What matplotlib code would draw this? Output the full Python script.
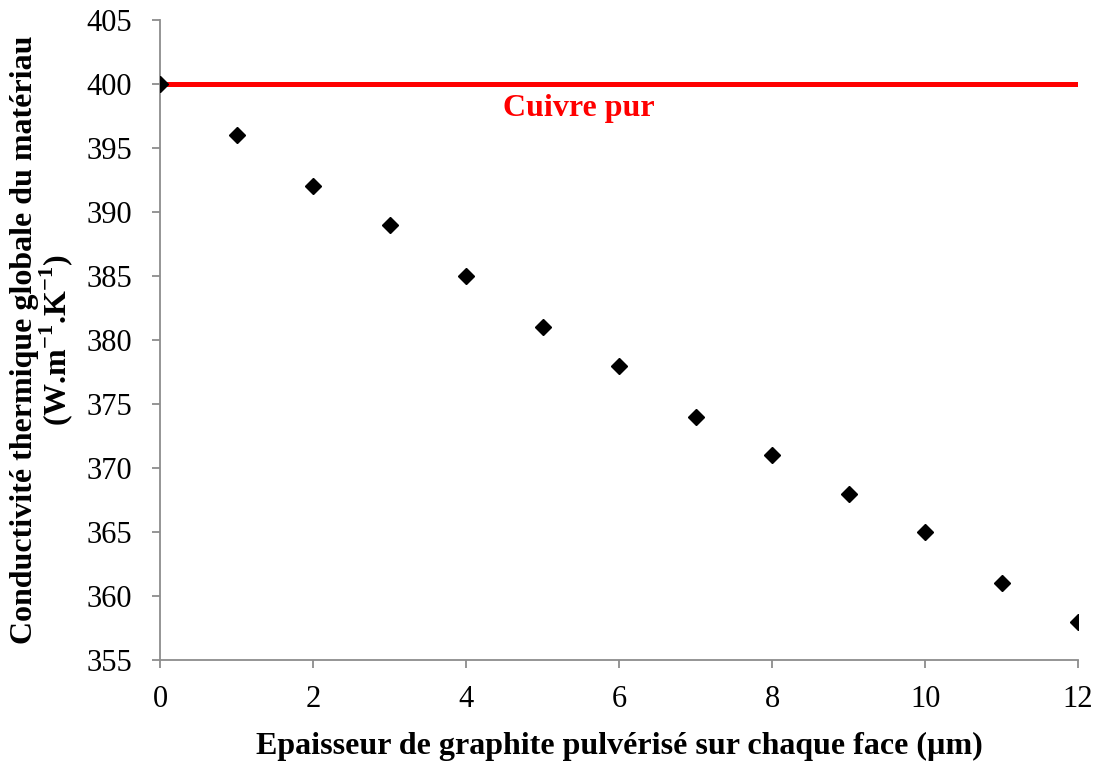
import numpy as np
import matplotlib.pyplot as plt

plt.rcParams['font.family'] = 'Liberation Serif'
plt.rcParams['mathtext.fontset'] = 'custom'
plt.rcParams['mathtext.rm'] = 'Liberation Serif'
plt.rcParams['mathtext.bf'] = 'Liberation Serif:bold'

epaisseur = [0, 1, 2, 3, 4, 5, 6, 7, 8, 9, 10, 11, 12]
conductivite = [400, 396, 392, 389, 385, 381, 378, 374, 371, 368, 365, 361, 358]
cuivre_x = [0, 12]
cuivre_y = [400, 400]

fig = plt.figure(figsize=(10.99, 7.62), dpi=100)
ax = fig.add_axes([0.1456, 0.1339, 0.8354, 0.8399])

ax.plot(cuivre_x, cuivre_y, color='#ff0000', linewidth=3.6, zorder=2)
ax.plot(epaisseur, conductivite, linestyle='none', marker='D', markersize=8,
        color='black', zorder=3)
ax.text(5.48, 398.1, 'Cuivre pur', color='#ff0000', fontsize=23,
        fontweight='bold', ha='center', va='center')

ax.set_xlim(0, 12)
ax.set_ylim(355, 405)
ax.set_xticks(np.arange(0, 13, 2))
ax.set_yticks(np.arange(355, 406, 5))

for s in ['top', 'right']:
    ax.spines[s].set_visible(False)
for s in ['left', 'bottom']:
    ax.spines[s].set_color('#8c8c8c')
    ax.spines[s].set_linewidth(1.3)
ax.tick_params(axis='both', colors='#8c8c8c', length=6, width=1.3,
               labelsize=22, labelcolor='black', direction='out')
ax.tick_params(axis='y', pad=14)
ax.tick_params(axis='x', pad=12)

ax.set_xlabel('Epaisseur de graphite pulvérisé sur chaque face (µm)',
              fontsize=23, fontweight='bold', labelpad=13)
ax.set_ylabel('Conductivité thermique globale du matériau\n'
              r'(W.m$^{\mathbf{-1}}$.K$^{\mathbf{-1}}$)',
              fontsize=23, fontweight='bold', labelpad=8, linespacing=0.95)

fig.savefig('out.png', dpi=100)
